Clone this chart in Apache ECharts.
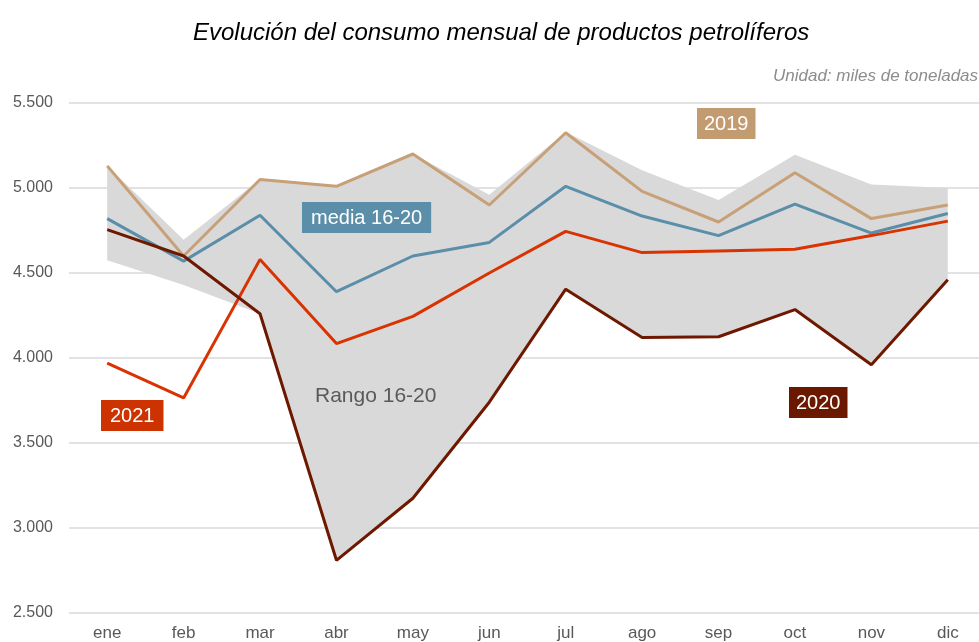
<!DOCTYPE html>
<html>
<head>
<meta charset="utf-8">
<script src="https://cdn.jsdelivr.net/npm/echarts@6/dist/echarts.min.js"></script>
<style>
  html, body { margin: 0; padding: 0; background: #fff; }
  #chart { width: 979px; height: 642px; }
</style>
</head>
<body>
<div id="chart"></div>
<script>
var meses = ['ene', 'feb', 'mar', 'abr', 'may', 'jun', 'jul', 'ago', 'sep', 'oct', 'nov', 'dic'];
var serie2019 = [5130, 4600, 5050, 5010, 5200, 4900, 5325, 4980, 4800, 5090, 4820, 4900];
var media1620 = [4820, 4570, 4840, 4390, 4600, 4680, 5010, 4835, 4720, 4905, 4735, 4850];
var serie2021 = [3970, 3765, 4580, 4085, 4245, 4500, 4745, 4620, 4630, 4640, 4720, 4805];
var serie2020 = [4755, 4600, 4260, 2810, 3175, 3740, 4405, 4120, 4125, 4285, 3960, 4460];
var rangoMax = [5130, 4695, 5050, 5010, 5200, 4960, 5330, 5105, 4930, 5195, 5020, 5000];
var rangoMin = [4575, 4430, 4260, 2810, 3175, 3740, 4405, 4120, 4125, 4285, 3960, 4460];

var fuente = 'Liberation Sans, Arial, sans-serif';

var myChart = echarts.init(document.getElementById('chart'));

// etiqueta con fondo de color
function etiqueta(texto, left, top, bg, padX) {
    return {
        type: 'text',
        left: left,
        top: top,
        z: 100,
        style: {
            text: texto,
            fill: '#fff',
            font: '20px ' + fuente,
            backgroundColor: bg,
            padding: [6, padX, 5, padX]
        }
    };
}

var option = {
    backgroundColor: '#fff',
    animation: false,
    title: [{
        text: 'Evolución del consumo mensual de productos petrolíferos',
        left: 188,
        top: 16,
        textStyle: {
            fontFamily: fuente,
            fontStyle: 'italic',
            fontWeight: 'normal',
            fontSize: 24,
            color: '#000'
        }
    }, {
        text: 'Unidad: miles de toneladas',
        left: 768,
        top: 63,
        textStyle: {
            fontFamily: fuente,
            fontStyle: 'italic',
            fontWeight: 'normal',
            fontSize: 17,
            color: '#8c8c8c'
        }
    }],
    grid: {
        left: 69,
        width: 917,
        top: 103,
        bottom: 29,
        containLabel: false,
        outerBoundsMode: 'none'
    },
    xAxis: {
        type: 'category',
        boundaryGap: true,
        data: meses,
        axisLine: { show: false },
        axisTick: { show: false },
        axisLabel: {
            margin: 12,
            fontFamily: fuente,
            fontSize: 17,
            color: '#595959'
        }
    },
    yAxis: {
        type: 'value',
        min: 2500,
        max: 5500,
        interval: 500,
        axisLine: { show: false },
        axisTick: { show: false },
        splitLine: { lineStyle: { color: '#d9d9d9', width: 1.5 } },
        axisLabel: {
            margin: 16,
            fontFamily: fuente,
            fontSize: 16,
            color: '#595959',
            formatter: function (v) {
                return v.toString().replace(/\B(?=(\d{3})+(?!\d))/g, '.');
            }
        }
    },
    series: [
        {
            name: 'base',
            type: 'line',
            stack: 'rango',
            data: rangoMin,
            symbol: 'none',
            lineStyle: { opacity: 0 },
            silent: true
        },
        {
            name: 'Rango 16-20',
            type: 'line',
            stack: 'rango',
            data: rangoMax.map(function (v, i) { return v - rangoMin[i]; }),
            symbol: 'none',
            lineStyle: { opacity: 0 },
            areaStyle: { color: '#d9d9d9', opacity: 1 },
            silent: true
        },
        {
            name: '2019',
            type: 'line',
            data: serie2019,
            symbol: 'none',
            lineStyle: { color: '#c8a078', width: 3 }
        },
        {
            name: 'media 16-20',
            type: 'line',
            data: media1620,
            symbol: 'none',
            lineStyle: { color: '#5b8ea9', width: 3 }
        },
        {
            name: '2021',
            type: 'line',
            data: serie2021,
            symbol: 'none',
            lineStyle: { color: '#d83300', width: 3 }
        },
        {
            name: '2020',
            type: 'line',
            data: serie2020,
            symbol: 'none',
            lineStyle: { color: '#6e1800', width: 3 }
        }
    ],
    graphic: [
        etiqueta('2019', 697, 108, '#c29b70', 7),
        etiqueta('media 16-20', 302, 202, '#5b8ea9', 9),
        etiqueta('2021', 101, 400, '#cc3300', 9),
        etiqueta('2020', 789, 387, '#6b1800', 7),
        {
            type: 'text',
            left: 315,
            top: 386,
            z: 100,
            style: {
                text: 'Rango 16-20',
                fill: '#595959',
                font: '21px ' + fuente
            }
        }
    ]
};

myChart.setOption(option);
</script>
</body>
</html>
